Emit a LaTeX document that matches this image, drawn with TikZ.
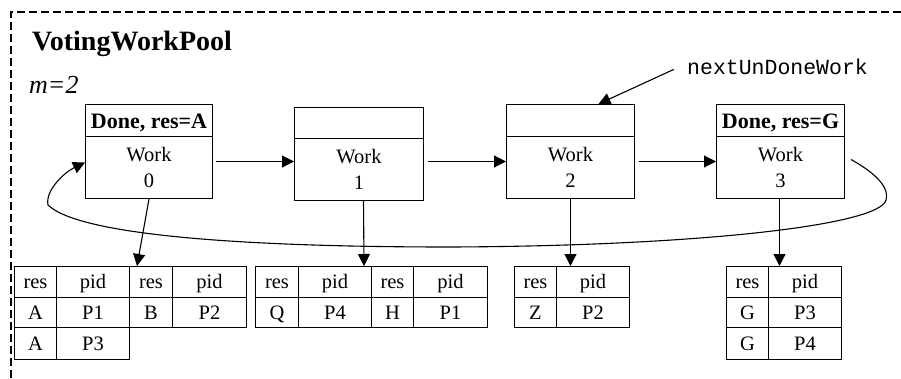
\documentclass[tikz,border=0pt]{standalone}
\usepackage{fontspec}
\setmainfont{Liberation Serif}
\setmonofont{Liberation Mono}
\usetikzlibrary{arrows.meta,calc}
\tikzset{
  bx/.style={draw, line width=1pt, inner sep=0pt, anchor=north west, align=center},
  hdr/.style={bx, text height=16pt, text depth=0pt, font=\fontsize{22}{26}\selectfont\bfseries},
  bdy/.style={bx, font=\fontsize{20.5}{26}\selectfont},
  cell/.style={draw, line width=1pt, inner sep=0pt, anchor=north west, text height=15pt, text depth=2pt, font=\fontsize{20.5}{24}\selectfont},
  arr/.style={line width=1.1pt, -{Triangle[length=12pt,width=12pt]}},
  border/.style={line width=1.3pt, dash pattern=on 8pt off 4pt},
}
\newcommand\wbox[8]{%
  \pgfmathsetmacro\mybw{#5-#2}\pgfmathsetmacro\myhh{#4-#3}\pgfmathsetmacro\mybh{#6-#4}%
  \node[hdr, minimum width=\mybw pt, minimum height=\myhh pt] (h#1) at (#2,#3) {#7};
  \node[bdy, minimum width=\mybw pt, minimum height=\mybh pt] (b#1) at (#2,#4) {#8};}
\newcommand\tcell[6]{%
  \pgfmathsetmacro\mycw{#4-#2}\pgfmathsetmacro\mych{#5-#3}%
  \node[cell, minimum width=\mycw pt, minimum height=\mych pt] (#1) at (#2,#3) {#6};}
\begin{document}
\begin{tikzpicture}[x=1pt,y=-1pt]
\useasboundingbox (0,0) rectangle (901,378);
\draw[border] (11,378) -- (11,12) -- (901,12);
\node[anchor=base west, inner sep=0pt, font=\fontsize{28}{32}\selectfont\bfseries] (title) at (32,50) {VotingWorkPool};
\node[anchor=base west, inner sep=0pt, font=\fontsize{26}{30}\selectfont\itshape] (mval) at (29,93) {m=2};
% work boxes
\wbox{0}{85}{104}{136}{212}{198}{Done, res=A}{Work\\0}
\wbox{1}{294}{107}{138}{423}{200}{}{Work\\1}
\wbox{2}{506}{104}{136}{634}{198}{}{Work\\2}
\wbox{3}{716}{104}{136}{844}{198}{Done, res=G}{Work\\3}
% next pointer
\node[anchor=base west, inner sep=0pt, font=\fontsize{21.5}{24}\ttfamily] (nudw) at (687,74) {nextUnDoneWork};
\draw[arr] ([xshift=-13pt,yshift=-3pt]nudw.west) -- ([xshift=28pt]h2.north);
% chain arrows
\draw[arr] ([xshift=3pt,yshift=6pt]b0.east) -- ([yshift=8pt]b1.west);
\draw[arr] ([xshift=4pt,yshift=8pt]b1.east) -- ([yshift=6pt]b2.west);
\draw[arr] ([xshift=4pt,yshift=6pt]b2.east) -- ([yshift=6pt]b3.west);
% tables
\tcell{t1a}{14}{266}{56}{297}{res}
\tcell{t1b}{56}{266}{129}{297}{pid}
\tcell{t1c}{129}{266}{172}{297}{res}
\tcell{t1d}{172}{266}{246}{297}{pid}
\tcell{t1e}{14}{297}{56}{327}{A}
\tcell{t1f}{56}{297}{129}{327}{P1}
\tcell{t1g}{129}{297}{172}{327}{B}
\tcell{t1h}{172}{297}{246}{327}{P2}
\tcell{t1i}{14}{327}{56}{359}{A}
\tcell{t1j}{56}{327}{129}{359}{P3}
\tcell{t2a}{255}{266}{298}{297}{res}
\tcell{t2b}{298}{266}{371}{297}{pid}
\tcell{t2c}{371}{266}{413}{297}{res}
\tcell{t2d}{413}{266}{487}{297}{pid}
\tcell{t2e}{255}{297}{298}{327}{Q}
\tcell{t2f}{298}{297}{371}{327}{P4}
\tcell{t2g}{371}{297}{413}{327}{H}
\tcell{t2h}{413}{297}{487}{327}{P1}
\tcell{t3a}{514}{266}{556}{297}{res}
\tcell{t3b}{556}{266}{629}{297}{pid}
\tcell{t3c}{514}{297}{556}{327}{Z}
\tcell{t3d}{556}{297}{629}{327}{P2}
\tcell{t4a}{726}{266}{768}{297}{res}
\tcell{t4b}{768}{266}{841}{297}{pid}
\tcell{t4c}{726}{297}{768}{327}{G}
\tcell{t4d}{768}{297}{841}{327}{P3}
\tcell{t4e}{726}{327}{768}{359}{G}
\tcell{t4f}{768}{327}{841}{359}{P4}
% box to table arrows
\draw[arr] (b0.south) -- ([xshift=8pt]t1c.north west);
\draw[arr] ([xshift=4.5pt]b1.south) -- ([xshift=-8pt]t2b.north east);
\draw[arr] (b2.south) -- (b2.south |- t3b.north);
\draw[arr] ([xshift=-1pt]b3.south) -- ([xshift=-1pt]b3.south |- t4b.north);
% loop back
\coordinate (ls) at ([xshift=6pt,yshift=8pt]b3.east);
\draw[arr] (ls) .. controls (870,170) and (890,185) .. (886,200)
  .. controls (880,225) and (700,246) .. (450,247)
  .. controls (250,247) and (80,236) .. (48,205)
  .. controls (45,190) and (65,172) .. ([yshift=5pt]b0.west);
\end{tikzpicture}
\end{document}
